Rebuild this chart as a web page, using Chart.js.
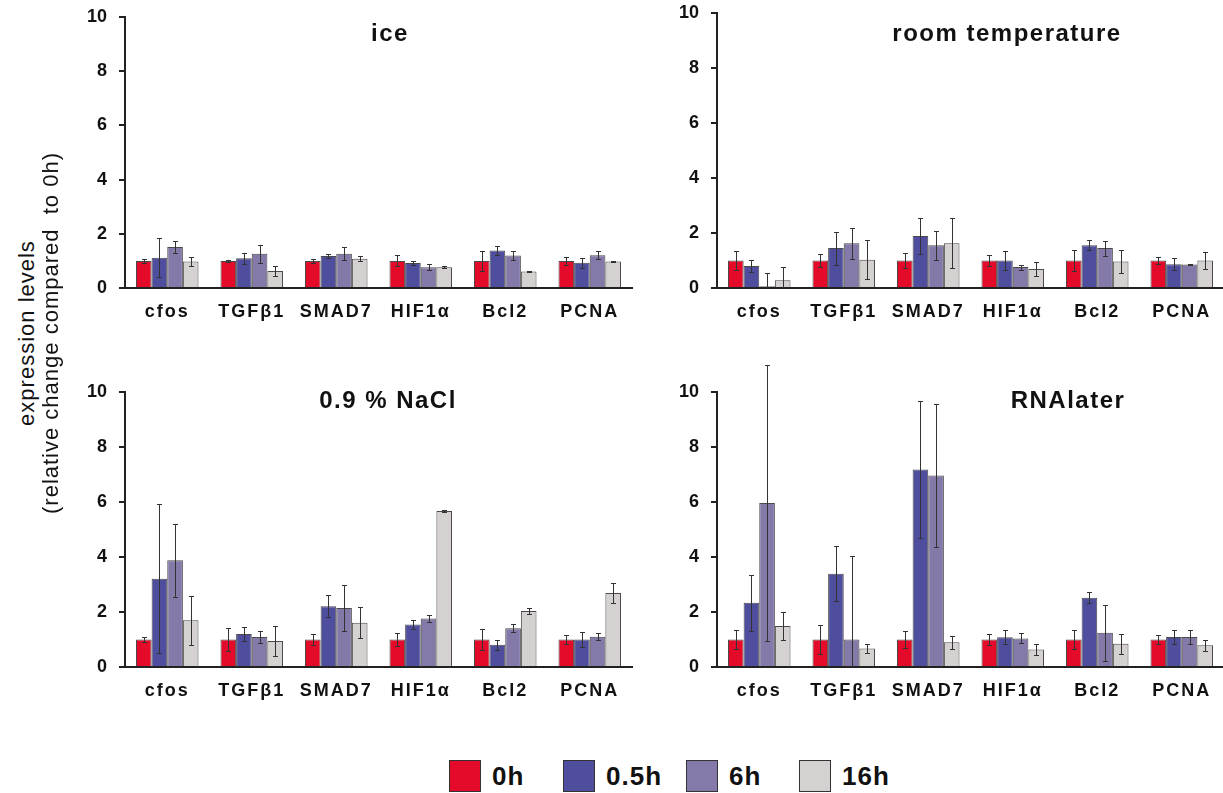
<!DOCTYPE html>
<html><head><meta charset="utf-8">
<script src="https://cdn.jsdelivr.net/npm/chart.js@4.4.1/dist/chart.umd.min.js"></script>
<style>
html,body{margin:0;padding:0;background:#fff;}
body{width:1223px;height:793px;overflow:hidden;position:relative;font-family:"Liberation Sans",Arial,sans-serif;color:#111;}
canvas{position:absolute;}
.title{position:absolute;font-weight:bold;font-size:24px;letter-spacing:1.5px;color:#111;transform:translate(-50%,-50%);white-space:nowrap;}
.ylab{position:absolute;font-size:22px;letter-spacing:1px;color:#111;white-space:nowrap;transform:translate(-50%,-50%) rotate(-90deg);}
.leg{position:absolute;top:760px;height:32px;display:flex;align-items:center;}
.leg .box{width:30px;height:30px;border:1px solid #333;margin-right:11px;}
.leg span{font-weight:bold;font-size:26px;letter-spacing:1px;}
</style></head><body>
<canvas id="c1" width="600" height="340" style="left:40px;top:-10px"></canvas>
<canvas id="c2" width="600" height="340" style="left:640px;top:-10px"></canvas>
<canvas id="c3" width="600" height="370" style="left:40px;top:340px"></canvas>
<canvas id="c4" width="600" height="370" style="left:640px;top:340px"></canvas>
<div class="title" style="left:390px;top:33px">ice</div>
<div class="title" style="left:1007px;top:33px">room temperature</div>
<div class="title" style="left:388px;top:400px">0.9 % NaCl</div>
<div class="title" style="left:1068px;top:400px">RNAlater</div>
<div class="ylab" style="left:27px;top:333px">expression levels</div>
<div class="ylab" style="left:51px;top:333px">(relative change compared&nbsp; to 0h)</div>
<div id="legend"></div>
<script>
// ---- data ----
const categories = ['cfos', 'TGFβ1', 'SMAD7', 'HIF1α', 'Bcl2', 'PCNA'];
const seriesLabels = ['0h', '0.5h', '6h', '16h'];
const seriesColors = ['#E30A2A', '#4F4E9E', '#8579A9', '#D5D1D0'];
const yTickValues = [0, 2, 4, 6, 8, 10];

// ice
const ice_0h = [1.0, 1.0, 1.0, 1.0, 1.0, 1.0];
const ice_05h = [1.12, 1.10, 1.18, 0.92, 1.38, 0.93];
const ice_6h = [1.51, 1.26, 1.26, 0.77, 1.20, 1.21];
const ice_16h = [0.98, 0.63, 1.08, 0.77, 0.61, 0.98];
const ice_0h_err = [0.08, 0.03, 0.08, 0.20, 0.38, 0.15];
const ice_05h_err = [0.72, 0.20, 0.09, 0.07, 0.16, 0.19];
const ice_6h_err = [0.22, 0.34, 0.24, 0.11, 0.16, 0.15];
const ice_16h_err = [0.17, 0.17, 0.10, 0.05, 0.03, 0.02];

// room temperature
const rt_0h = [1.0, 1.0, 1.0, 1.0, 1.0, 1.0];
const rt_05h = [0.80, 1.45, 1.89, 1.00, 1.55, 0.86];
const rt_6h = [0.06, 1.63, 1.55, 0.76, 1.45, 0.85];
const rt_16h = [0.28, 1.03, 1.63, 0.69, 0.96, 1.00];
const rt_0h_err = [0.33, 0.25, 0.27, 0.20, 0.38, 0.13];
const rt_05h_err = [0.22, 0.60, 0.65, 0.34, 0.18, 0.22];
const rt_6h_err = [0.49, 0.56, 0.52, 0.09, 0.27, 0.03];
const rt_16h_err = [0.48, 0.70, 0.90, 0.24, 0.41, 0.31];

// 0.9 % NaCl
const nacl_0h = [1.0, 1.0, 1.0, 1.0, 1.0, 1.0];
const nacl_05h = [3.21, 1.20, 2.21, 1.55, 0.81, 1.00];
const nacl_6h = [3.88, 1.09, 2.15, 1.76, 1.41, 1.10];
const nacl_16h = [1.70, 0.95, 1.61, 5.67, 2.04, 2.69];
const nacl_0h_err = [0.09, 0.41, 0.20, 0.23, 0.37, 0.16];
const nacl_05h_err = [2.70, 0.27, 0.40, 0.15, 0.18, 0.28];
const nacl_6h_err = [1.32, 0.22, 0.83, 0.12, 0.15, 0.12];
const nacl_16h_err = [0.90, 0.55, 0.57, 0.03, 0.12, 0.35];

// RNAlater
const rna_0h = [1.0, 1.0, 1.0, 1.0, 1.0, 1.0];
const rna_05h = [2.34, 3.39, 7.18, 1.08, 2.52, 1.09];
const rna_6h = [5.96, 1.00, 6.96, 1.04, 1.25, 1.09];
const rna_16h = [1.49, 0.67, 0.90, 0.64, 0.85, 0.79];
const rna_0h_err = [0.33, 0.52, 0.31, 0.21, 0.36, 0.15];
const rna_05h_err = [1.02, 1.00, 2.48, 0.25, 0.20, 0.27];
const rna_6h_err = [5.03, 3.04, 2.60, 0.18, 1.02, 0.27];
const rna_16h_err = [0.50, 0.17, 0.24, 0.20, 0.36, 0.19];

// ---- legend (HTML text) ----
const legPos = [449, 563, 686, 799];
const legEl = document.getElementById('legend');
seriesLabels.forEach((lab, i) => {
  const d = document.createElement('div');
  d.className = 'leg';
  d.style.left = legPos[i] + 'px';
  d.innerHTML = '<div class="box" style="background:' + seriesColors[i] + '"></div><span>' + lab + '</span>';
  legEl.appendChild(d);
});

// ---- error bar plugin ----
const errorBars = {
  id: 'errorBars',
  afterDatasetsDraw(chart) {
    const ctx = chart.ctx;
    const ys = chart.scales.y;
    ctx.save();
    ctx.strokeStyle = '#333';
    ctx.lineWidth = 1;
    chart.data.datasets.forEach((ds, i) => {
      const meta = chart.getDatasetMeta(i);
      meta.data.forEach((el, j) => {
        const v = ds.data[j], e = ds.errors[j];
        const x = Math.round(el.x) + 0.5;
        const yt = Math.round(ys.getPixelForValue(v + e)) + 0.5;
        const yb = Math.round(ys.getPixelForValue(Math.max(0, v - e))) + 0.5;
        ctx.beginPath();
        ctx.moveTo(x, yt); ctx.lineTo(x, yb);
        ctx.moveTo(x - 2.5, yt); ctx.lineTo(x + 2.5, yt);
        if (v - e > 0) { ctx.moveTo(x - 2.5, yb); ctx.lineTo(x + 2.5, yb); }
        ctx.stroke();
      });
    });
    ctx.restore();
  }
};

// letter-spaced category labels on the x axis
const spacedLabels = {
  id: 'spacedLabels',
  afterLayout(chart) {
    const sx = chart.scales.x;
    if (sx && !sx._spaced) {
      const orig = sx.drawLabels;
      sx.drawLabels = function (ca) {
        const c = this.ctx;
        const prev = c.letterSpacing;
        c.letterSpacing = '2px';
        orig.call(this, ca);
        c.letterSpacing = prev || '0px';
      };
      sx._spaced = true;
    }
  }
};

function makeChart(id, vals, errs, layout) {
  const datasets = seriesLabels.map((lab, i) => ({
    label: lab,
    data: vals[i],
    errors: errs[i],
    backgroundColor: seriesColors[i],
    borderColor: '#4a4a4a',
    borderWidth: 1,
    categoryPercentage: 0.74,
    barPercentage: 1.0
  }));
  return new Chart(document.getElementById(id), {
    type: 'bar',
    data: { labels: categories, datasets },
    plugins: [errorBars, spacedLabels],
    options: {
      responsive: false,
      animation: false,
      devicePixelRatio: 1,
      layout: { padding: layout.pad },
      plugins: { legend: { display: false }, tooltip: { enabled: false }, title: { display: false } },
      scales: {
        x: {
          offset: true,
          grid: { display: true, drawOnChartArea: false, drawTicks: false },
          border: { display: true, color: '#222', width: 2 },
          ticks: { color: '#111', padding: 13, font: { family: 'Liberation Sans', weight: 'bold', size: 18 } },
          afterFit(s) { s.height = layout.xH; }
        },
        y: {
          min: 0, max: 10,
          afterBuildTicks(s) { s.ticks = yTickValues.map(v => ({ value: v })); },
          grid: { display: true, drawOnChartArea: false, drawTicks: true, tickLength: 6, color: '#222', lineWidth: 2 },
          border: { display: true, color: '#222', width: 2 },
          ticks: { color: '#111', padding: 12, font: { family: 'Liberation Sans', weight: 'bold', size: 18 } },
          afterFit(s) { s.width = layout.yW; }
        }
      }
    }
  });
}

makeChart('c1', [ice_0h, ice_05h, ice_6h, ice_16h], [ice_0h_err, ice_05h_err, ice_6h_err, ice_16h_err],
  { pad: { top: 27, right: 8, bottom: 2, left: 0 }, yW: 85, xH: 40 });
makeChart('c2', [rt_0h, rt_05h, rt_6h, rt_16h], [rt_0h_err, rt_05h_err, rt_6h_err, rt_16h_err],
  { pad: { top: 22, right: 16, bottom: 2, left: 0 }, yW: 77, xH: 40 });
makeChart('c3', [nacl_0h, nacl_05h, nacl_6h, nacl_16h], [nacl_0h_err, nacl_05h_err, nacl_6h_err, nacl_16h_err],
  { pad: { top: 52, right: 8, bottom: 3, left: 0 }, yW: 85, xH: 40 });
makeChart('c4', [rna_0h, rna_05h, rna_6h, rna_16h], [rna_0h_err, rna_05h_err, rna_6h_err, rna_16h_err],
  { pad: { top: 52, right: 16, bottom: 3, left: 0 }, yW: 77, xH: 40 });
</script>
</body></html>
